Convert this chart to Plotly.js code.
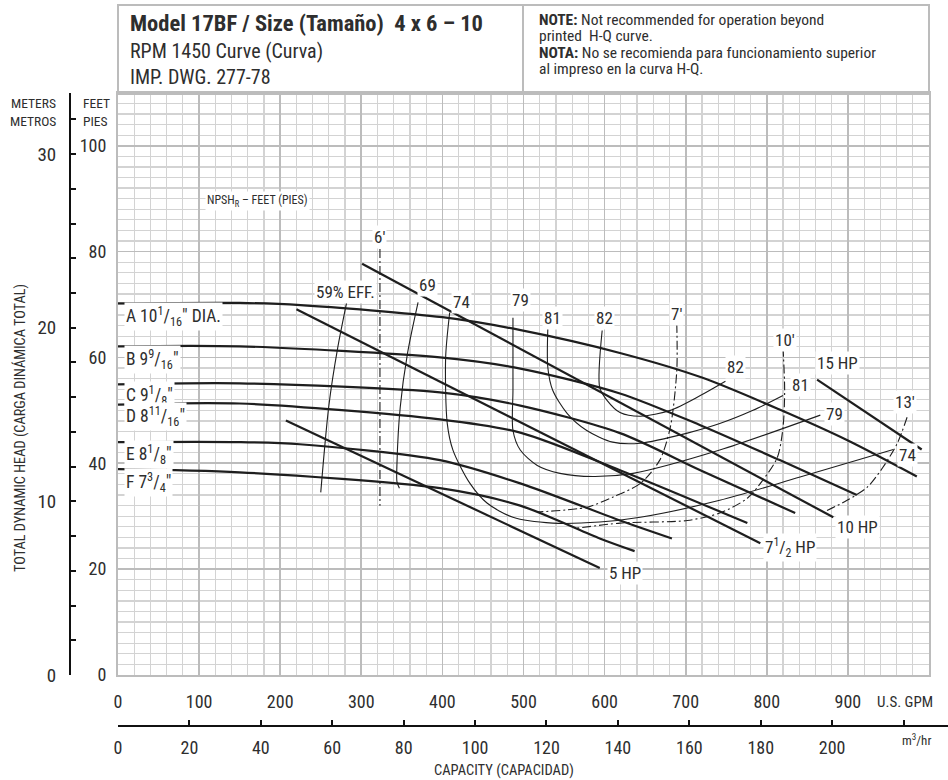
<!DOCTYPE html>
<html><head><meta charset="utf-8">
<script src="https://cdn.plot.ly/plotly-3.0.1.min.js"></script>
<style>html,body{margin:0;padding:0;background:#fff;}#chart{width:948px;height:780px;}</style>
</head><body><div id="chart"></div>
<script>
// ---- Impeller head-capacity curves (U.S. GPM, feet) ----
const impA_q = [0,150,225,400,495,620,720,815,900,985];
const impA_h = [70.2,70.3,69.9,67.6,65.2,60.8,56.2,50.2,44.3,37.5];
const impB_q = [0,150,397,496,619,718,816,911];
const impB_h = [62.1,62.1,60.0,57.9,53.2,47.2,40.6,34.0];
const impC_q = [0,150,397,496,619,718,835];
const impC_h = [54.9,55.1,53.4,50.9,45.7,38.7,30.6];
const impD_q = [0,150,397,496,619,776];
const impD_h = [51.1,51.3,48.3,45.8,38.7,28.7];
const impE_q = [0,150,224,397,496,619,683];
const impE_h = [44.0,44.0,43.6,40.6,36.2,29.2,25.8];
const impF_q = [0,150,397,496,594,637];
const impF_h = [38.9,38.3,35.3,32.0,25.8,23.4];
const impLabels = ['A 10<sup>1</sup>/<sub>16</sub>" DIA.','B 9<sup>9</sup>/<sub>16</sub>"','C 9<sup>1</sup>/<sub>8</sub>"','D 8<sup>11</sup>/<sub>16</sub>"','E 8<sup>1</sup>/<sub>8</sub>"','F 7<sup>3</sup>/<sub>4</sub>"'];

// ---- Horsepower lines ----
const hp5_q = [207,594],  hp5_h = [48.1,20.2];
const hp75_q = [220,792], hp75_h = [69.1,24.9];
const hp10_q = [301,882], hp10_h = [77.7,29.8];
const hp15_q = [862,991], hp15_h = [55.8,42.6];

// ---- Efficiency curves ----
const e59_q = [282,271,260,250];
const e59_h = [70.4,61.9,50.9,34.5];
const e69_q = [370,357,348,344,344,347];
const e69_h = [70.4,60.8,50.6,40.0,36.5,35.3];
const e74_q = [409,404,406,413,434,455,487,536,594,644,742,841,956];
const e74_h = [68.5,60.0,47.5,42.5,36.2,32.5,29.8,28.7,28.9,29.8,33.0,37.4,42.6];
const e79_q = [487,487,487,496,517,545,586,635,742,866];
const e79_h = [67.5,53.8,46.2,42.5,39.6,38.1,37.5,38.1,42.5,49.1];
const e81_q = [530,530,536,554,578,610,644,702,742,783,820];
const e81_h = [65.5,58.1,53.8,49.4,46.2,44.0,43.8,45.7,47.5,50.0,52.8];
const e82_q = [597,594,603,619,644,681,718,749];
const e82_h = [65.1,54.3,51.9,49.6,48.9,50.0,52.8,55.5];

// ---- NPSHR curves ----
const n6_q = [323,323], n6_h = [80.5,32.0];
const n7_q = [689,689,681,668,644,610,578,517];
const n7_h = [66.4,57.5,46.8,40.6,36.2,33.6,31.7,30.8];
const n10_q = [820,822,820,813,795,776,742,702,619,564];
const n10_h = [61.9,53.8,46.8,41.1,36.8,33.4,30.6,29.2,28.7,27.7];
const n13_q = [973,961,943,924,899,872];
const n13_h = [48.7,43.8,39.2,35.5,33.0,30.9];

// ---- Axis ticks ----
const gpmTicks = [0,100,200,300,400,500,600,700,800,900];
const feetTicks = [0,20,40,60,80,100];
const m3Ticks = [0,20,40,60,80,100,120,140,160,180,200,220];
const m3Text = ['0','20','40','60','80','100','120','140','160','180','200',''];
const mTicks = [0,2,4,6,8,10,12,14,16,18,20,22,24,26,28,30,32];
const mText = ['0','','','','','10','','','','','20','','','','','30',''];

const FONT = "'Liberation Sans Narrow','Roboto Condensed','DejaVu Sans Condensed',Roboto,sans-serif";
const TXT = '#2e2e2e';
const LC = '#1e1e1e';

function line(q,h,w,extra){ return Object.assign({x:q,y:h,type:'scatter',mode:'lines',hoverinfo:'skip',showlegend:false,
  line:{color:LC,width:w,shape:'spline',smoothing:0.8}},extra||{}); }
const thick = 2.2, thin = 1.1;
const dd = {line:{color:LC,width:1.1,dash:'9px,3px,2px,3px',shape:'spline',smoothing:0.8}};

const traces = [
  line(impA_q,impA_h,thick), line(impB_q,impB_h,thick), line(impC_q,impC_h,thick),
  line(impD_q,impD_h,thick), line(impE_q,impE_h,thick), line(impF_q,impF_h,thick),
  line(hp5_q,hp5_h,thick), line(hp75_q,hp75_h,thick), line(hp10_q,hp10_h,thick), line(hp15_q,hp15_h,thick),
  line(e59_q,e59_h,thin), line(e69_q,e69_h,thin), line(e74_q,e74_h,thin), line(e79_q,e79_h,thin),
  line(e81_q,e81_h,thin), line(e82_q,e82_h,thin),
  line(n6_q,n6_h,thin,dd), line(n7_q,n7_h,thin,dd), line(n10_q,n10_h,thin,dd), line(n13_q,n13_h,thin,dd),
  {x:[0],y:[0],xaxis:'x2',yaxis:'y',type:'scatter',mode:'markers',marker:{opacity:0},hoverinfo:'skip',showlegend:false},
  {x:[0],y:[0],xaxis:'x',yaxis:'y2',type:'scatter',mode:'markers',marker:{opacity:0},hoverinfo:'skip',showlegend:false}
];

function lab(x,y,text,size,anchor){ return {x:x,y:y,xref:'x',yref:'y',text:text,showarrow:false,
  xanchor:anchor||'center',yanchor:'middle',bgcolor:'#ffffff',borderpad:1,font:{family:FONT,size:size||17,color:TXT}}; }
function ptxt(x,y,text,size,opts){ return Object.assign({x:x/948,y:1-y/780,xref:'paper',yref:'paper',text:text,showarrow:false,
  xanchor:'left',yanchor:'middle',font:{family:FONT,size:size,color:TXT}},opts||{}); }

const impLabY = [67.7,59.7,52.8,48.8,41.7,36.3];
const annotations = [];
impLabels.forEach((t,i)=>annotations.push(lab(8,impLabY[i],t,17.5,'left')));
annotations.push(
  lab(172,89.6,'NPSH<sub>R</sub> – FEET (PIES)',12),
  lab(281,72.3,'59% EFF.',17), lab(382,73.6,'69',17), lab(424,70.4,'74',17),
  lab(496,70.9,'79',17), lab(536,67.5,'81',17), lab(600,67.5,'82',17), lab(689,68.3,"7'",17),
  lab(323,82.7,"6'",17), lab(822,63.2,"10'",17), lab(761,58.1,'82',17), lab(841,54.7,'81',17),
  lab(884,49.4,'79',17), lab(887,58.9,'15 HP',17), lab(970,51.5,"13'",17), lab(973,41.5,'74',17),
  lab(912,27.9,'10 HP',17), lab(829,24.0,'7<sup>1</sup>/<sub>2</sub> HP',17), lab(625,19.2,'5 HP',17),
  ptxt(128,23,'<b>Model 17BF / Size (Tamaño)  4 x 6 – 10</b>',22.5),
  ptxt(128,51,'RPM 1450 Curve (Curva)',20),
  ptxt(128,77,'IMP. DWG. 277-78',20),
  ptxt(537,20,'<b>NOTE:</b> Not recommended for operation beyond',15.5),
  ptxt(537,36,'printed  H-Q curve.',15.5),
  ptxt(537,53,'<b>NOTA:</b> No se recomienda para funcionamiento superior',15.5),
  ptxt(537,69,'al impreso en la curva H-Q.',15.5),
  ptxt(58,103,'METERS',13.5,{xanchor:'right'}), ptxt(58,121,'METROS',13.5,{xanchor:'right'}),
  ptxt(81,103,'FEET',13.5), ptxt(81,121,'PIES',13.5),
  ptxt(875,702,'U.S. GPM',15),
  ptxt(900,740,'m<sup>3</sup>/hr',13),
  ptxt(504,770,'CAPACITY (CAPACIDAD)',14.5,{xanchor:'center'}),
  ptxt(20,428,'TOTAL DYNAMIC HEAD (CARGA DINÁMICA TOTAL)',14.3,{xanchor:'center',textangle:-90})
);

const GRID_MAJ = '#bcbcbc', GRID_MIN = '#d3d3d3';
const layout = {
  width:948, height:780, margin:{l:0,r:0,t:0,b:0},
  paper_bgcolor:'#ffffff', plot_bgcolor:'#ffffff', showlegend:false, hovermode:false,
  font:{family:FONT,color:TXT},
  xaxis:{domain:[118/948,929/948], range:[0,1000], tickmode:'array', tickvals:gpmTicks, ticktext:gpmTicks.map(String),
    showgrid:true, gridcolor:GRID_MAJ, gridwidth:1.8, zeroline:false,
    minor:{tickmode:'linear',tick0:0,dtick:20,showgrid:true,gridcolor:GRID_MIN,gridwidth:1.2,ticks:''},
    showline:true, mirror:true, linecolor:GRID_MAJ, linewidth:2,
    ticks:'outside', ticklen:9, tickcolor:'rgba(0,0,0,0)', tickfont:{family:FONT,size:18,color:TXT}},
  yaxis:{domain:[105/780, (780-92.8)/780], range:[0,110], tickmode:'array', tickvals:feetTicks, ticktext:feetTicks.map(String),
    showgrid:true, gridcolor:GRID_MAJ, gridwidth:1.8, zeroline:false,
    minor:{tickmode:'linear',tick0:0,dtick:2,showgrid:true,gridcolor:GRID_MIN,gridwidth:1.2,ticks:''},
    showline:true, mirror:true, linecolor:GRID_MAJ, linewidth:2,
    ticks:'outside', ticklen:6, tickcolor:'rgba(0,0,0,0)', tickfont:{family:FONT,size:18,color:TXT}},
  xaxis2:{overlaying:'x', anchor:'free', position:54/780, side:'bottom', range:[0,1000/4.402868],
    tickmode:'array', tickvals:m3Ticks, ticktext:m3Text, showgrid:false, zeroline:false,
    showline:true, linecolor:'#111', linewidth:2, ticks:'inside', ticklen:5, tickwidth:2, tickcolor:'#111',
    ticklabelstandoff:5, tickfont:{family:FONT,size:18,color:TXT}},
  yaxis2:{overlaying:'y', anchor:'free', position:70/948, side:'left', range:[0,110/3.28084],
    tickmode:'array', tickvals:mTicks, ticktext:mText, showgrid:false, zeroline:false,
    showline:true, linecolor:'#111', linewidth:2, ticks:'inside', ticklen:5, tickwidth:2, tickcolor:'#111',
    ticklabelstandoff:9, tickfont:{family:FONT,size:19,color:TXT}},
  shapes:[
    {type:'rect',xref:'paper',yref:'paper',x0:118/948,x1:929/948,y0:1-94/780,y1:1-5/780,line:{color:GRID_MAJ,width:2}},
    {type:'line',xref:'paper',yref:'paper',x0:523/948,x1:523/948,y0:1-94/780,y1:1-5/780,line:{color:GRID_MAJ,width:2}},
    {type:'line',xref:'paper',yref:'paper',x0:929/948,x1:1,y0:54/780,y1:54/780,line:{color:'#111',width:2}}
  ],
  annotations:annotations
};
Plotly.newPlot('chart',traces,layout,{staticPlot:true,displayModeBar:false});
</script></body></html>
